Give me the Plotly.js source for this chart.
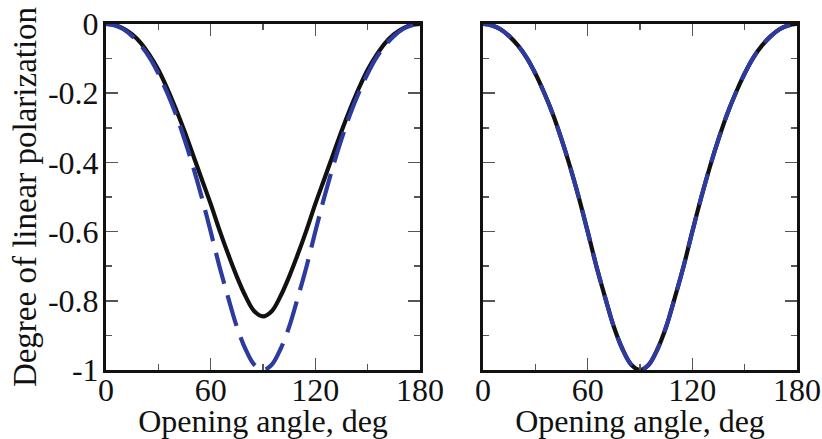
<!DOCTYPE html>
<html>
<head>
<meta charset="utf-8">
<script src="https://cdn.plot.ly/plotly-3.0.1.min.js"></script>
<style>html,body{margin:0;padding:0;background:#fff;}#chart{width:822px;height:439px;}</style>
</head>
<body>
<div id="chart"></div>
<script>
// Opening angle (deg)
const angle = [0,5,10,15,20,25,30,35,40,45,50,55,60,65,70,75,80,85,90,
               95,100,105,110,115,120,125,130,135,140,145,150,155,160,165,170,175,180];
// Left panel, solid black curve
const leftSolid = [0,-0.003,-0.013,-0.030,-0.055,-0.090,-0.132,-0.185,-0.245,-0.310,-0.380,-0.450,-0.520,-0.595,-0.665,-0.730,-0.787,-0.830,-0.845,
                   -0.830,-0.787,-0.730,-0.665,-0.595,-0.520,-0.450,-0.380,-0.310,-0.245,-0.185,-0.132,-0.090,-0.055,-0.030,-0.013,-0.003,0];
// Left panel, dashed blue curve
const leftDashed = [0,-0.004,-0.015,-0.035,-0.062,-0.097,-0.143,-0.198,-0.260,-0.333,-0.414,-0.503,-0.600,-0.700,-0.790,-0.875,-0.940,-0.985,-1.000,
                    -0.985,-0.940,-0.875,-0.790,-0.700,-0.600,-0.503,-0.414,-0.333,-0.260,-0.198,-0.143,-0.097,-0.062,-0.035,-0.015,-0.004,0];
// Right panel, solid black curve
const rightSolid = [0,-0.004,-0.015,-0.035,-0.062,-0.097,-0.143,-0.198,-0.260,-0.333,-0.414,-0.503,-0.600,-0.700,-0.790,-0.875,-0.940,-0.985,-1.000,
                    -0.985,-0.940,-0.875,-0.790,-0.700,-0.600,-0.503,-0.414,-0.333,-0.260,-0.198,-0.143,-0.097,-0.062,-0.035,-0.015,-0.004,0];
// Right panel, dashed blue curve
const rightDashed = [0,-0.004,-0.015,-0.035,-0.062,-0.097,-0.143,-0.198,-0.260,-0.333,-0.414,-0.503,-0.600,-0.700,-0.790,-0.875,-0.940,-0.985,-1.000,
                     -0.985,-0.940,-0.875,-0.790,-0.700,-0.600,-0.503,-0.414,-0.333,-0.260,-0.198,-0.143,-0.097,-0.062,-0.035,-0.015,-0.004,0];

const xTickVals = [0,60,120,180];
const xTickText = ['0','60','120','180'];
const xMinorVals = [30,90,150];
const yTickVals = [-1,-0.8,-0.6,-0.4,-0.2,0];
const yTickText = ['-1','-0.8','-0.6','-0.4','-0.2','0'];
const yMinorVals = [-0.9,-0.7,-0.5,-0.3,-0.1];

const xTitle = 'Opening angle, deg';
const yTitle = 'Degree of linear polarization';

const BLACK = '#111111';
const BLUE = '#2e3b9e';
const FONT = '"Liberation Serif", "Times New Roman", serif';

const solidLine = {color: BLACK, width: 4.2, shape: 'spline', smoothing: 1};
const dashLine = {color: BLUE, width: 4.2, dash: '32px,12px', shape: 'spline', smoothing: 1};

const traces = [
  {x: angle, y: leftSolid, xaxis: 'x', yaxis: 'y', mode: 'lines', line: solidLine, hoverinfo: 'skip'},
  {x: angle, y: leftDashed, xaxis: 'x', yaxis: 'y', mode: 'lines', line: dashLine, hoverinfo: 'skip'},
  {x: angle, y: rightSolid, xaxis: 'x2', yaxis: 'y2', mode: 'lines', line: solidLine, hoverinfo: 'skip'},
  {x: angle, y: rightDashed, xaxis: 'x2', yaxis: 'y2', mode: 'lines', line: dashLine, hoverinfo: 'skip'}
];

function xAxis(domain, anchor) {
  return {
    domain: domain, anchor: anchor, range: [0, 180],
    tickmode: 'array', tickvals: xTickVals, ticktext: xTickText,
    ticks: 'inside', ticklen: 12, tickwidth: 1.5, tickcolor: '#555',
    minor: {tickmode: 'array', tickvals: xMinorVals, ticks: 'inside', ticklen: 6, tickwidth: 1.5, tickcolor: '#555', showgrid: false},
    showline: true, linecolor: BLACK, linewidth: 3, mirror: 'allticks',
    showgrid: false, zeroline: false,
    tickfont: {family: FONT, size: 32, color: BLACK},
    ticklabelstandoff: -10,
    title: {text: xTitle, font: {family: FONT, size: 32, color: BLACK}, standoff: 8}
  };
}
function yAxis(anchor, labels) {
  const a = {
    anchor: anchor, domain: [0, 1], range: [-1, 0],
    tickmode: 'array', tickvals: yTickVals, ticktext: yTickText,
    ticks: 'inside', ticklen: 12, tickwidth: 1.5, tickcolor: '#555',
    minor: {tickmode: 'array', tickvals: yMinorVals, ticks: 'inside', ticklen: 6, tickwidth: 1.5, tickcolor: '#555', showgrid: false},
    showline: true, linecolor: BLACK, linewidth: 3, mirror: 'allticks',
    showgrid: false, zeroline: false,
    showticklabels: labels,
    tickfont: {family: FONT, size: 32, color: BLACK},
    ticklabelstandoff: -2
  };
  if (labels) a.title = {text: yTitle, font: {family: FONT, size: 33, color: BLACK}, standoff: 2};
  return a;
}

const layout = {
  width: 822, height: 439,
  margin: {l: 0, r: 0, t: 24, b: 69, pad: 0},
  paper_bgcolor: '#ffffff', plot_bgcolor: '#ffffff',
  showlegend: false,
  font: {family: FONT, color: BLACK},
  xaxis: xAxis([106/822, 420/822], 'y'),
  yaxis: yAxis('x', true),
  xaxis2: xAxis([483/822, 797/822], 'y2'),
  yaxis2: yAxis('x2', false)
};

Plotly.newPlot('chart', traces, layout, {staticPlot: true, displayModeBar: false});
</script>
</body>
</html>
